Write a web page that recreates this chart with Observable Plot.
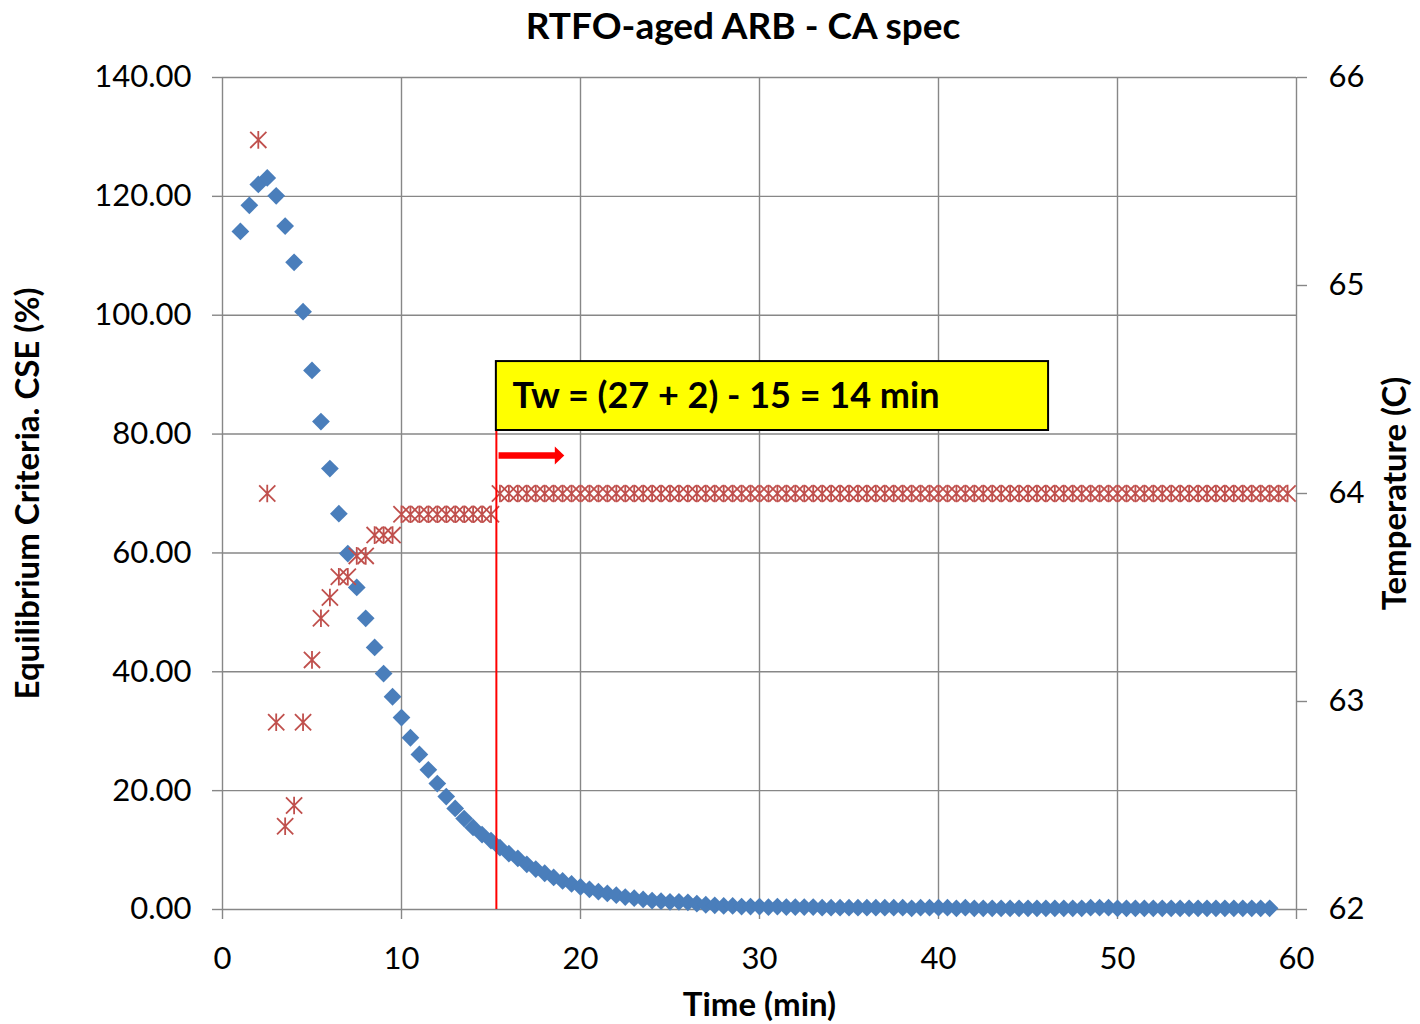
<!DOCTYPE html>
<html>
<head>
<meta charset="utf-8">
<script src="https://cdn.jsdelivr.net/npm/d3@7"></script>
<script src="https://cdn.jsdelivr.net/npm/@observablehq/plot@0.6"></script>
<style>
  body { margin: 0; background: #fff; font-family: Lato, "Open Sans", sans-serif; }
  #wrap { position: relative; width: 1420px; height: 1024px; }
  #title { position: absolute; left: 743px; top: 2px; transform: translateX(-50%); white-space: nowrap;
           font-weight: bold; font-size: 37px; line-height: 46px; color: #000; }
  #chart { position: absolute; left: 0; top: 50px; }
</style>
</head>
<body>
<div id="wrap">
  <div id="title">RTFO-aged ARB - CA spec</div>
  <div id="chart"></div>
</div>
<script>
// ---- Data ----
const cseTime = [
  1.0, 1.5, 2.0, 2.5, 3.0, 3.5, 4.0, 4.5, 5.0, 5.5,
  6.0, 6.5, 7.0, 7.5, 8.0, 8.5, 9.0, 9.5, 10.0, 10.5,
  11.0, 11.5, 12.0, 12.5, 13.0, 13.5, 14.0, 14.5, 15.0, 15.5,
  16.0, 16.5, 17.0, 17.5, 18.0, 18.5, 19.0, 19.5, 20.0, 20.5,
  21.0, 21.5, 22.0, 22.5, 23.0, 23.5, 24.0, 24.5, 25.0, 25.5,
  26.0, 26.5, 27.0, 27.5, 28.0, 28.5, 29.0, 29.5, 30.0, 30.5,
  31.0, 31.5, 32.0, 32.5, 33.0, 33.5, 34.0, 34.5, 35.0, 35.5,
  36.0, 36.5, 37.0, 37.5, 38.0, 38.5, 39.0, 39.5, 40.0, 40.5,
  41.0, 41.5, 42.0, 42.5, 43.0, 43.5, 44.0, 44.5, 45.0, 45.5,
  46.0, 46.5, 47.0, 47.5, 48.0, 48.5, 49.0, 49.5, 50.0, 50.5,
  51.0, 51.5, 52.0, 52.5, 53.0, 53.5, 54.0, 54.5, 55.0, 55.5,
  56.0, 56.5, 57.0, 57.5, 58.0, 58.5
];
const cseValue = [
  114.1, 118.5, 122.0, 123.1, 120.1, 115.0, 108.9, 100.6, 90.7, 82.1,
  74.2, 66.6, 59.9, 54.2, 49.0, 44.1, 39.7, 35.8, 32.3, 28.9,
  26.1, 23.5, 21.2, 19.0, 17.0, 15.3, 13.8, 12.6, 11.6, 10.4,
  9.4, 8.6, 7.6, 6.8, 6.1, 5.4, 4.8, 4.3, 3.8, 3.4,
  3.0, 2.7, 2.4, 2.1, 1.9, 1.7, 1.5, 1.4, 1.3, 1.3,
  1.2, 1.0, 0.8, 0.7, 0.6, 0.6, 0.5, 0.5, 0.5, 0.4,
  0.5, 0.4, 0.4, 0.4, 0.4, 0.3, 0.3, 0.3, 0.3, 0.3,
  0.3, 0.3, 0.3, 0.3, 0.3, 0.2, 0.3, 0.3, 0.3, 0.3,
  0.2, 0.3, 0.2, 0.2, 0.2, 0.2, 0.2, 0.2, 0.2, 0.2,
  0.2, 0.2, 0.2, 0.2, 0.2, 0.3, 0.3, 0.3, 0.2, 0.2,
  0.2, 0.2, 0.2, 0.2, 0.2, 0.2, 0.2, 0.2, 0.2, 0.2,
  0.2, 0.2, 0.2, 0.2, 0.2, 0.2
];
const tempTime = [
  2.0, 2.5, 3.0, 3.5, 4.0, 4.5, 5.0, 5.5, 6.0, 6.5,
  7.0, 7.5, 8.0, 8.5, 9.0, 9.5, 10.0, 10.5, 11.0, 11.5,
  12.0, 12.5, 13.0, 13.5, 14.0, 14.5, 15.0, 15.5, 16.0, 16.5,
  17.0, 17.5, 18.0, 18.5, 19.0, 19.5, 20.0, 20.5, 21.0, 21.5,
  22.0, 22.5, 23.0, 23.5, 24.0, 24.5, 25.0, 25.5, 26.0, 26.5,
  27.0, 27.5, 28.0, 28.5, 29.0, 29.5, 30.0, 30.5, 31.0, 31.5,
  32.0, 32.5, 33.0, 33.5, 34.0, 34.5, 35.0, 35.5, 36.0, 36.5,
  37.0, 37.5, 38.0, 38.5, 39.0, 39.5, 40.0, 40.5, 41.0, 41.5,
  42.0, 42.5, 43.0, 43.5, 44.0, 44.5, 45.0, 45.5, 46.0, 46.5,
  47.0, 47.5, 48.0, 48.5, 49.0, 49.5, 50.0, 50.5, 51.0, 51.5,
  52.0, 52.5, 53.0, 53.5, 54.0, 54.5, 55.0, 55.5, 56.0, 56.5,
  57.0, 57.5, 58.0, 58.5, 59.0, 59.5
];
const tempValue = [
  65.7, 64.0, 62.9, 62.4, 62.5, 62.9, 63.2, 63.4, 63.5, 63.6,
  63.6, 63.7, 63.7, 63.8, 63.8, 63.8, 63.9, 63.9, 63.9, 63.9,
  63.9, 63.9, 63.9, 63.9, 63.9, 63.9, 63.9, 64.0, 64.0, 64.0,
  64.0, 64.0, 64.0, 64.0, 64.0, 64.0, 64.0, 64.0, 64.0, 64.0,
  64.0, 64.0, 64.0, 64.0, 64.0, 64.0, 64.0, 64.0, 64.0, 64.0,
  64.0, 64.0, 64.0, 64.0, 64.0, 64.0, 64.0, 64.0, 64.0, 64.0,
  64.0, 64.0, 64.0, 64.0, 64.0, 64.0, 64.0, 64.0, 64.0, 64.0,
  64.0, 64.0, 64.0, 64.0, 64.0, 64.0, 64.0, 64.0, 64.0, 64.0,
  64.0, 64.0, 64.0, 64.0, 64.0, 64.0, 64.0, 64.0, 64.0, 64.0,
  64.0, 64.0, 64.0, 64.0, 64.0, 64.0, 64.0, 64.0, 64.0, 64.0,
  64.0, 64.0, 64.0, 64.0, 64.0, 64.0, 64.0, 64.0, 64.0, 64.0,
  64.0, 64.0, 64.0, 64.0, 64.0, 64.0
];
const xTicks = [0, 10, 20, 30, 40, 50, 60];
const cseTicks = [0, 20, 40, 60, 80, 100, 120, 140];
const tempTicks = [62, 63, 64, 65, 66];
const titleText = "RTFO-aged ARB - CA spec";
const xLabel = "Time (min)";
const yLabel = "Equilibrium Criteria. CSE (%)";
const y2Label = "Temperature (C)";
const noteText = "Tw = (27 + 2) - 15 = 14 min";
const startTime = [15.3];            // red vertical marker (min)
const noteBox = [{x1: 15.3, x2: 46.15, y1: 80.6, y2: 92.2, tx: 16.2, ty: 86.3}];
const arrowSpec = [{x1: 15.45, x2: 18.65, y: 76.4}];

// ---- Helpers ----
const tempMin = 62, tempMax = 66, cseMax = 140;
const toLeft = t => (t - tempMin) * cseMax / (tempMax - tempMin);
const fromLeft = v => tempMin + v * (tempMax - tempMin) / cseMax;

const cseData = cseTime.map((t, i) => ({t, v: cseValue[i]}));
const tempData = tempTime.map((t, i) => ({t, v: tempValue[i]}));

// Excel style "star" marker: vertical bar + X
const starSymbol = {
  draw(ctx, size) {
    const r = Math.sqrt(size / Math.PI) * 1.1;
    const d = r * 0.92;
    ctx.moveTo(0, -r); ctx.lineTo(0, r);
    ctx.moveTo(-d, -d); ctx.lineTo(d, d);
    ctx.moveTo(-d, d); ctx.lineTo(d, -d);
  }
};
const headSymbol = {
  draw(ctx, size) {
    const r = Math.sqrt(size / Math.PI);
    ctx.moveTo(-r * 0.5, -r);
    ctx.lineTo(r * 0.55, 0);
    ctx.lineTo(-r * 0.5, r);
    ctx.closePath();
  }
};

const gridColor = "#878787";

const chart = Plot.plot({
  width: 1420,
  height: 974,
  marginLeft: 222,
  marginRight: 124,
  marginTop: 27,
  marginBottom: 115,
  style: {fontFamily: "Lato, 'Open Sans', sans-serif", color: "#000", background: "#fff", overflow: "visible"},
  x: {domain: [0, 60]},
  y: {domain: [0, cseMax]},
  marks: [
    Plot.gridX(xTicks, {stroke: gridColor, strokeOpacity: 1, strokeWidth: 1.4}),
    Plot.gridY(cseTicks, {stroke: gridColor, strokeOpacity: 1, strokeWidth: 1.4}),
    Plot.axisX(xTicks, {tickSize: 10, tickPadding: 27, fontSize: 31, stroke: gridColor, strokeWidth: 1.4, label: null, tickFormat: d => String(d)}),
    Plot.axisY(cseTicks, {anchor: "left", tickSize: 10, tickPadding: 21, fontSize: 31, stroke: gridColor, strokeWidth: 1.4, label: null, tickFormat: d => d.toFixed(2)}),
    Plot.axisY(tempTicks.map(toLeft), {anchor: "right", tickSize: 10, tickPadding: 22, fontSize: 31, stroke: gridColor, strokeWidth: 1.4, label: null, tickFormat: d => String(Math.round(fromLeft(d)))}),
    Plot.text([xLabel], {frameAnchor: "bottom", dy: 96, textAnchor: "middle", lineAnchor: "middle", fontSize: 33, fontWeight: "bold", fill: "#000"}),
    Plot.text([yLabel], {frameAnchor: "left", dx: -194, rotate: -90, textAnchor: "middle", lineAnchor: "middle", fontSize: 33, fontWeight: "bold", fill: "#000"}),
    Plot.text([y2Label], {frameAnchor: "right", dx: 99, rotate: -90, textAnchor: "middle", lineAnchor: "middle", fontSize: 33, fontWeight: "bold", fill: "#000"}),
    // series
    Plot.dot(cseData, {x: "t", y: "v", symbol: "diamond2", r: 8, fill: "#4A7EBB", stroke: "none"}),
    Plot.dot(tempData, {x: "t", y: d => toLeft(d.v), symbol: starSymbol, r: 8, fill: "none", stroke: "#C0504D", strokeWidth: 1.8}),
    // annotations
    Plot.ruleX(startTime, {x: d => d, y1: 0, y2: noteBox[0].y1, stroke: "#FF0000", strokeWidth: 2}),
    Plot.rect(noteBox, {x1: "x1", x2: "x2", y1: "y1", y2: "y2", fill: "#FFFF00", stroke: "#000", strokeWidth: 2}),
    Plot.text(noteBox, {x: "tx", y: "ty", text: () => noteText, textAnchor: "start", fontSize: 36, fontWeight: "bold", fill: "#000"}),
    Plot.ruleY(arrowSpec, {x1: "x1", x2: "x2", y: "y", stroke: "#FF0000", strokeWidth: 6.5}),
    Plot.dot(arrowSpec, {x: "x2", y: "y", symbol: headSymbol, r: 9, dx: 3, fill: "#FF0000", stroke: "none"})
  ]
});
document.getElementById("chart").appendChild(chart);
</script>
</body>
</html>
